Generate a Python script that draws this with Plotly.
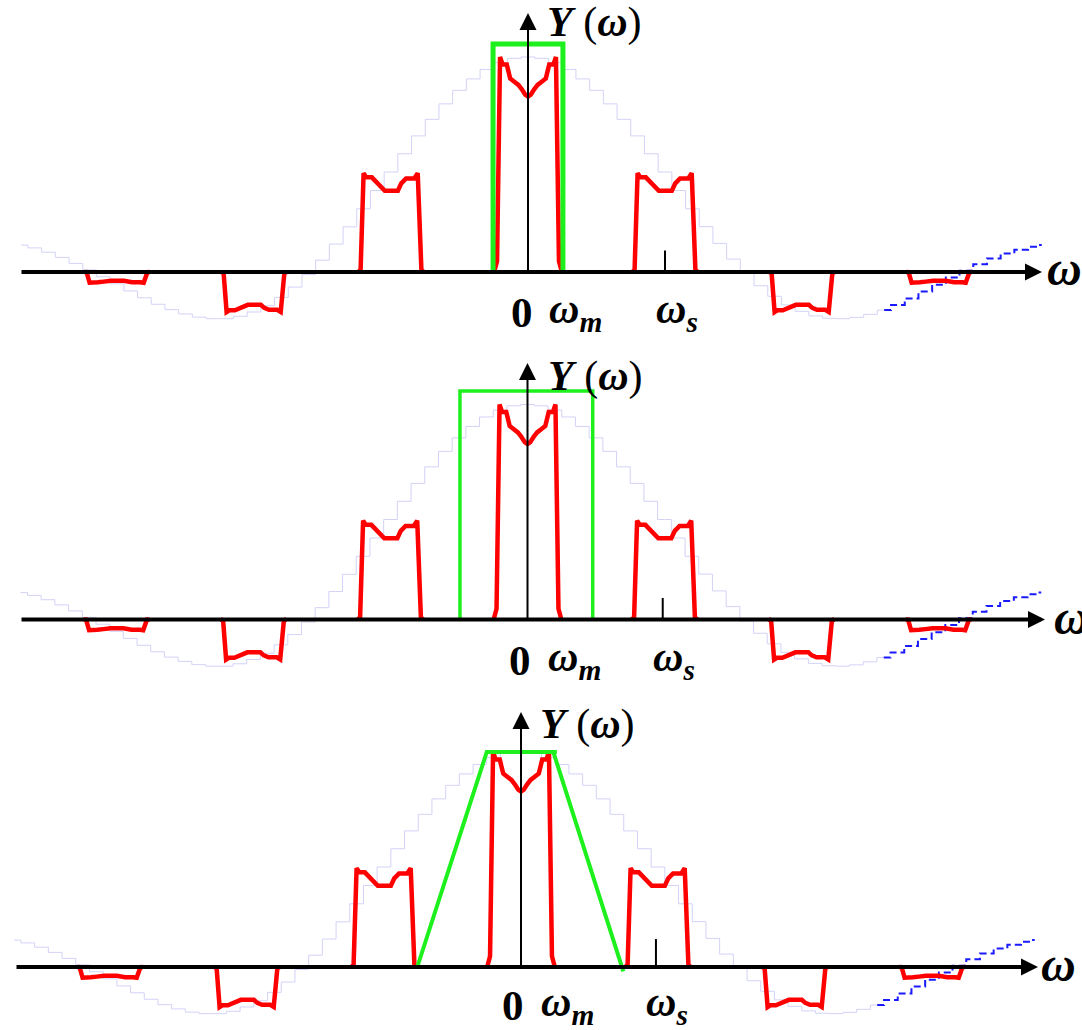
import plotly.graph_objects as go

W, H = 1082, 1030
SX, SY = 137.0, 215.0   # pixels per unit of omega_s, pixels per unit amplitude

# ---------------- data (omega in units of omega_s, amplitude relative to baseband peak)
replica_k = [-3, -2, -1, 0, 1, 2, 3]
replica_gain = [-0.05, -0.186, 0.46, 1.0, 0.46, -0.186, -0.05]

# baseband spectrum outline: offset from replica centre, relative height
base_dw = [-0.247, -0.226, -0.204, -0.186, -0.155, -0.13, -0.10, -0.07, -0.045, -0.02, 0.0,
           0.02, 0.045, 0.07, 0.10, 0.13, 0.155, 0.186, 0.204, 0.226, 0.247]
base_h = [0.0, 0.05, 1.0, 0.965, 0.965, 0.90, 0.885, 0.87, 0.85, 0.825, 0.816,
          0.825, 0.85, 0.87, 0.885, 0.90, 0.965, 0.965, 1.0, 0.05, 0.0]

# outline of the shifted copies
copy_dw = [-0.24, -0.222, -0.2, -0.18, -0.14, -0.095, -0.045, 0.05, 0.075, 0.11, 0.17, 0.195, 0.222, 0.24]
copy_h = [0.0, 0.02, 1.0, 0.957, 0.957, 0.896, 0.821, 0.821, 0.896, 0.946, 0.946, 1.0, 0.02, 0.0]

# sample-and-hold envelope (solid part)
env_w = [-3.7, -3.6, -3.5, -3.4, -3.3, -3.2, -3.1, -3.0, -2.9, -2.8, -2.7, -2.6, -2.5, -2.4,
         -2.3, -2.2, -2.1, -2.0, -1.9, -1.8, -1.7, -1.6, -1.5, -1.4, -1.3, -1.2, -1.1, -1.0,
         -0.9, -0.8, -0.7, -0.6, -0.5, -0.4, -0.3, -0.2, -0.1, 0.0, 0.1, 0.2, 0.3, 0.4, 0.5,
         0.6, 0.7, 0.8, 0.9, 1.0, 1.1, 1.2, 1.3, 1.4, 1.5, 1.6, 1.7, 1.8, 1.9, 2.0, 2.1, 2.2,
         2.3, 2.4, 2.5, 2.6]
env_a = [0.125, 0.112, 0.092, 0.068, 0.040, 0.010, -0.022, -0.055, -0.088, -0.12, -0.15,
         -0.175, -0.195, -0.21, -0.217, -0.217, -0.206, -0.186, -0.157, -0.118, -0.07, -0.012,
         0.055, 0.13, 0.21, 0.294, 0.379, 0.465, 0.55, 0.633, 0.71, 0.782, 0.845, 0.898, 0.942,
         0.974, 0.994, 1.0, 0.994, 0.974, 0.942, 0.898, 0.845, 0.782, 0.71, 0.633, 0.55, 0.465,
         0.379, 0.294, 0.211, 0.133, 0.06, -0.007, -0.064, -0.113, -0.153, -0.183, -0.204,
         -0.215, -0.217, -0.211, -0.197, -0.177]
# dashed continuation on the right
env_tail_w = [2.6, 2.7, 2.8, 2.9, 3.0, 3.1, 3.2, 3.3, 3.4, 3.5, 3.6, 3.7, 3.75]
env_tail_a = [-0.177, -0.153, -0.123, -0.091, -0.059, -0.026, 0.006, 0.036, 0.063, 0.086,
              0.104, 0.117, 0.126]

# reconstruction filters
filt1_w = [-0.255, -0.255, 0.255, 0.255]
filt1_a = [0.0, 1.06, 1.06, 0.0]
filt2_w = [-0.493, -0.493, 0.476, 0.476]
filt2_a = [0.0, 1.063, 1.063, 0.0]
filt3_w = [-0.757, -0.25, 0.262, 0.236, 0.747]
filt3_a = [0.0, 1.0, 1.0, 1.0, -0.02]

# small marker at omega_s
ws_tick_w = [1.0, 0.987, 0.985]
ws_tick_h = [0.1, 0.1, 0.13]

# ---------------- layout of the three panels (pixel positions)
PANELS = [
    dict(ox=528, oy=272, ax0=20, ax1=1042, ytip=13, ylab=(545, 22), wlab=(1064, 268),
         zero=(522, 312), wm=(547, 312), ws=(654, 312), gw=5),
    dict(ox=527.5, oy=619.5, ax0=20, ax1=1045, ytip=363, ylab=(546, 376), wlab=(1071, 617),
         zero=(520, 660), wm=(546, 660), ws=(651, 660), gw=3.5),
    dict(ox=521, oy=967, ax0=15, ax1=1038, ytip=712, ylab=(538, 724), wlab=(1058, 964),
         zero=(513, 1005), wm=(539, 1005), ws=(644, 1005), gw=4),
]
FILTERS = [(filt1_w, filt1_a), (filt2_w, filt2_a), (filt3_w, filt3_a)]

SERIF = "Liberation Serif, Times New Roman, serif"
RED = "#ff0000"
GREEN = "#1ef01e"
ENV = "#d2d2f7"


def xw(px, p):
    return (px - p["ox"]) / SX


def ya(py, p):
    return (p["oy"] - py) / SY


fig = go.Figure()
annotations = []
layout_axes = {}

for i, p in enumerate(PANELS):
    sfx = "" if i == 0 else str(i + 1)
    xa, yax = "x" + sfx, "y" + sfx

    # envelope
    fig.add_trace(go.Scatter(x=env_w, y=env_a, mode="lines", line=dict(color=ENV, width=1, shape="hvh"),
                             xaxis=xa, yaxis=yax, hoverinfo="skip", showlegend=False))
    fig.add_trace(go.Scatter(x=env_tail_w, y=env_tail_a, mode="lines",
                             line=dict(color="#1a1aff", width=2, shape="hvh", dash="7px,4px"),
                             xaxis=xa, yaxis=yax, hoverinfo="skip", showlegend=False))

    # sampled spectrum replicas
    xs, ys = [], []
    for k, g in zip(replica_k, replica_gain):
        dw, hh = (base_dw, base_h) if k == 0 else (copy_dw, copy_h)
        xs += [k + d for d in dw] + [None]
        ys += [g * h for h in hh] + [None]
    fig.add_trace(go.Scatter(x=xs, y=ys, mode="lines", line=dict(color=RED, width=4.5),
                             xaxis=xa, yaxis=yax, hoverinfo="skip", showlegend=False))

    # filter
    fw, fa = FILTERS[i]
    fig.add_trace(go.Scatter(x=fw, y=fa, mode="lines", line=dict(color=GREEN, width=p["gw"]),
                             xaxis=xa, yaxis=yax, hoverinfo="skip", showlegend=False))

    # omega_s marker
    fig.add_trace(go.Scatter(x=[ws_tick_w[i], ws_tick_w[i]], y=[0, ws_tick_h[i]], mode="lines",
                             line=dict(color="black", width=2),
                             xaxis=xa, yaxis=yax, hoverinfo="skip", showlegend=False))

    layout_axes["xaxis" + sfx] = dict(range=[xw(0, p), xw(W, p)], domain=[0, 1], anchor=yax,
                                      visible=False, fixedrange=True)
    layout_axes["yaxis" + sfx] = dict(range=[ya(H, p), ya(0, p)], domain=[0, 1], anchor=xa,
                                      visible=False, fixedrange=True)

    # horizontal axis with arrow
    annotations.append(dict(x=xw(p["ax1"], p), y=0, ax=xw(p["ax0"], p), ay=0,
                            xref=xa, yref=yax, axref=xa, ayref=yax, text="", showarrow=True,
                            arrowhead=2, arrowsize=0.85, arrowwidth=4, arrowcolor="black"))
    # vertical axis with arrow
    annotations.append(dict(x=0, y=ya(p["ytip"], p), ax=0, ay=0,
                            xref=xa, yref=yax, axref=xa, ayref=yax, text="", showarrow=True,
                            arrowhead=2, arrowsize=1.7, arrowwidth=2, arrowcolor="black"))

    def label(txt, pos, size, anchor="left"):
        annotations.append(dict(x=xw(pos[0], p), y=ya(pos[1], p), xref=xa, yref=yax, text=txt,
                                showarrow=False, xanchor=anchor, yanchor="middle",
                                font=dict(family=SERIF, size=size, color="black")))

    label("<b><i>Y</i></b> (<b><i>ω</i></b>)", p["ylab"], 42)
    label("<b><i>ω</i></b>", p["wlab"], 48, "center")
    label("<b>0</b>", p["zero"], 43, "center")
    label("<b><i>ω<sub>m</sub></i></b>", p["wm"], 42)
    label("<b><i>ω<sub>s</sub></i></b>", p["ws"], 42)

fig.update_layout(width=W, height=H, autosize=False, margin=dict(l=0, r=0, t=0, b=0),
                  paper_bgcolor="white", plot_bgcolor="rgba(0,0,0,0)",
                  annotations=annotations, showlegend=False, **layout_axes)

fig.write_html("out.html", config=dict(displayModeBar=False))
